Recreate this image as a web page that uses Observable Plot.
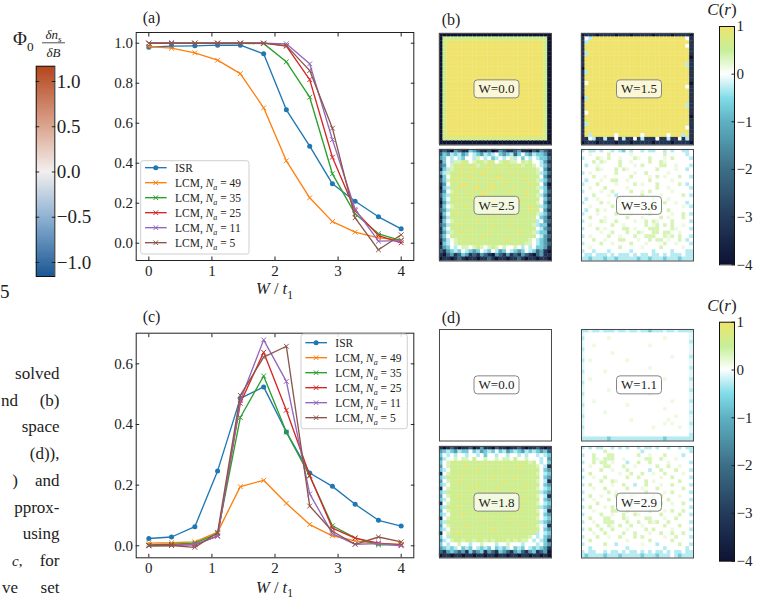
<!DOCTYPE html>
<html><head><meta charset="utf-8">
<script src="https://cdn.jsdelivr.net/npm/d3@7"></script>
<script src="https://cdn.jsdelivr.net/npm/@observablehq/plot@0.6"></script>
<style>
body{margin:0;background:#fff;}
#fig{position:relative;width:784px;height:599px;overflow:hidden;background:#fff;}
</style></head><body><div id="fig"></div>
<script>
// ---------------- data ----------------
const Wgrid = [0, 0.36, 0.73, 1.09, 1.45, 1.82, 2.18, 2.55, 2.91, 3.27, 3.64, 4.0];
const seriesNames = ["ISR", "LCM, Na = 49", "LCM, Na = 35", "LCM, Na = 25", "LCM, Na = 11", "LCM, Na = 5"];
const legendNa = [null, 49, 35, 25, 11, 5];
const seriesColors = ["#1f77b4", "#ff7f0e", "#2ca02c", "#d62728", "#9467bd", "#8c564b"];

// panel (a)
const a_ISR = [0.98, 0.985, 0.987, 0.99, 0.99, 0.947, 0.667, 0.485, 0.297, 0.21, 0.132, 0.072];
const a_N49 = [0.983, 0.975, 0.952, 0.915, 0.848, 0.677, 0.412, 0.227, 0.108, 0.055, 0.027, 0.017];
const a_N35 = [1.0, 1.0, 1.0, 1.0, 1.0, 0.998, 0.907, 0.73, 0.347, 0.147, 0.047, 0.013];
const a_N25 = [1.0, 1.0, 1.0, 1.0, 1.0, 1.0, 0.985, 0.818, 0.43, 0.163, 0.038, 0.002];
const a_N11 = [1.0, 1.0, 1.0, 1.0, 1.0, 1.0, 0.997, 0.897, 0.518, 0.17, 0.01, 0.013];
const a_N5  = [1.0, 1.0, 1.0, 1.0, 1.0, 1.0, 0.988, 0.863, 0.575, 0.127, -0.033, 0.042];
// panel (c)
const c_ISR = [0.024, 0.029, 0.063, 0.247, 0.486, 0.524, 0.375, 0.24, 0.196, 0.137, 0.084, 0.065];
const c_N49 = [0.009, 0.01, 0.013, 0.045, 0.195, 0.216, 0.14, 0.07, 0.033, 0.016, 0.007, 0.005];
const c_N35 = [0.003, 0.005, 0.009, 0.04, 0.423, 0.56, 0.375, 0.23, 0.066, 0.026, 0.003, 0.003];
const c_N25 = [0.001, 0.003, 0.003, 0.033, 0.47, 0.638, 0.447, 0.232, 0.058, 0.025, 0.009, 0.003];
const c_N11 = [0.0, 0.001, 0.005, 0.031, 0.479, 0.679, 0.542, 0.171, 0.04, 0.005, 0.007, 0.0];
const c_N5  = [0.0, 0.001, -0.005, 0.043, 0.496, 0.622, 0.658, 0.131, 0.048, 0.005, 0.029, 0.013];

const xTicks = [0, 1, 2, 3, 4];
const aYTicks = [0, 0.2, 0.4, 0.6, 0.8, 1.0];
const cYTicks = [0, 0.2, 0.4, 0.6];

// heat map level codes -> C(r) values
const levelCodes  = ["K", "N", "S", "T", "C", "c", "d", ".", "h", "g", "G", "y", "Y"];
const levelValues = [-4, -3.2, -2.2, -1.3, -0.7, -0.3, -0.12, 0, 0.15, 0.35, 0.6, 0.85, 1];
const bLabels = ["W=0.0", "W=1.5", "W=2.5", "W=3.6"];
const dLabels = ["W=0.0", "W=1.1", "W=1.8", "W=2.9"];

const b_W00 = [
"KKKKK KKKKK KKKKK KKKKK KKKKK KKKKK",
"KGGGG GGGGG GGGGG GGGGG GGGGG GGGGK",
"KGYYY YYYYY YYYYY YYYYY YYYYY YYYGK",
"KGYYY YYYYY YYYYY YYYYY YYYYY YYYGK",
"KGYYY YYYYY YYYYY YYYYY YYYYY YYYGK",
"KGYYY YYYYY YYYYY YYYYY YYYYY YYYGK",
"KGYYY YYYYY YYYYY YYYYY YYYYY YYYGK",
"KGYYY YYYYY YYYYY YYYYY YYYYY YYYGK",
"KGYYY YYYYY YYYYY YYYYY YYYYY YYYGK",
"KGYYY YYYYY YYYYY YYYYY YYYYY YYYGK",
"KGYYY YYYYY YYYYY YYYYY YYYYY YYYGK",
"KGYYY YYYYY YYYYY YYYYY YYYYY YYYGK",
"KGYYY YYYYY YYYYY YYYYY YYYYY YYYGK",
"KGYYY YYYYY YYYYY YYYYY YYYYY YYYGK",
"KGYYY YYYYY YYYYY YYYYY YYYYY YYYGK",
"KGYYY YYYYY YYYYY YYYYY YYYYY YYYGK",
"KGYYY YYYYY YYYYY YYYYY YYYYY YYYGK",
"KGYYY YYYYY YYYYY YYYYY YYYYY YYYGK",
"KGYYY YYYYY YYYYY YYYYY YYYYY YYYGK",
"KGYYY YYYYY YYYYY YYYYY YYYYY YYYGK",
"KGYYY YYYYY YYYYY YYYYY YYYYY YYYGK",
"KGYYY YYYYY YYYYY YYYYY YYYYY YYYGK",
"KGYYY YYYYY YYYYY YYYYY YYYYY YYYGK",
"KGYYY YYYYY YYYYY YYYYY YYYYY YYYGK",
"KGYYY YYYYY YYYYY YYYYY YYYYY YYYGK",
"KGYYY YYYYY YYYYY YYYYY YYYYY YYYGK",
"KGYYY YYYYY YYYYY YYYYY YYYYY YYYGK",
"KGYYY YYYYY YYYYY YYYYY YYYYY YYYGK",
"KGGGG GGGGG GGGGG GGGGG GGGGG GGGGK",
"KKKKK KKKKK KKKKK KKKKK KKKKK KKKKK"];

const b_W15 = [
"KNNNK NNNNK NNNKN NNNNK NNNNK NNNNK",
"N.cYY YYYYY YYYYY YYYYY YYYYY YYY.N",
"NcYYY YYYYY YYYYY YYYYY YYYYY YYYYN",
"NYYYY YYYYY YYYYY YYYYY YYYYY YYY.N",
"NYYYY YYYYY YYYYY YYYYY YYYYY YYYYN",
"NcYYY YYYYY YYYYY YYYYY YYYYY YYYYN",
"NYYYY YYYYY YYYYY YYYYY YYYYY YYYYK",
"NYYYY YYYYY YYYYY YYYYY YYYYY YYYYN",
"NYYYY YYYYY YYYYY YYYYY YYYYY YYYcN",
"KYYYY YYYYY YYYYY YYYYY YYYYY YYYYN",
"NcYYY YYYYY YYYYY YYYYY YYYYY YYYYN",
"NYYYY YYYYY YYYYY YYYYY YYYYY YYYYN",
"NYYYY YYYYY YYYYY YYYYY YYYYY YYYYN",
"N.YYY YYYYY YYYYY YYYYY YYYYY YYYYK",
"NYYYY YYYYY YYYYY YYYYY YYYYY YYY.N",
"NYYYY YYYYY YYYYY YYYYY YYYYY YYYYN",
"NYYYY YYYYY YYYYY YYYYY YYYYY YYYYN",
"KcYYY YYYYY YYYYY YYYYY YYYYY YYYYN",
"NYYYY YYYYY YYYYY YYYYY YYYYY YYYYN",
"NYYYY YYYYY YYYYY YYYYY YYYYY YYYcN",
"NYYYY YYYYY YYYYY YYYYY YYYYY YYYYN",
"N.YYY YYYYY YYYYY YYYYY YYYYY YYYYN",
"NYYYY YYYYY YYYYY YYYYY YYYYY YYYYK",
"NYYYY YYYYY YYYYY YYYYY YYYYY YYYYN",
"NcYYY YYYYY YYYYY YYYYY YYYYY YYYYN",
"NYYYY YYYYY YYYYY YYYYY YYYYY YYY.N",
"NYYYY YYYYY YYYYY YYYYY YYYYY YYYYN",
"NYcYY YYYY. YYYYY Y.YYY YYY.Y YYcYN",
"NN.cN NcNN. NcNN. NcNNN .NNcN N.NcN",
"KNNNK NNNNK NNNKN NNNNK NNNNK NNNNK"];

const b_W25 = [
"NSNKT SNNCT SNNSK NTSNN STNNK SNTSN",
"SCTcC cTC.c CTcCc .CTCc SC.CT cCCTN",
"TC.c. cC..c g.c.C c.c.g c.C.c .cCCS",
"NC.cg gGG.g GGgGG .gGGg g.GgG ..cTN",
"ST.gG GyGGG gGGyG GGGyG GGgGG g.cCS",
"NCcgG yGGyY GGGyG GyGGG GyGGG Gg.TN",
"TcgGG GyGGG GYyGG GGGGy GGGGG GgcCS",
"NC.GG yGGYG GGGGG yYGGG GGyGG GG.TN",
"SCgGy GGGGG yGGyG GGGyG GGGyG GgcCS",
"NT.GG GYyGG GGGGy GGyGG GGGGy GG.TK",
"KCcGG yGGGy YGGyY GGGGG yGGGG GgcCN",
"NT.gG GGyGG GGYGG GGGyG GGGyG GG.CS",
"SCcGy GGGyG GYyGG GGGGG GGGyG GgcTN",
"NC.GG GGGGy GGGGY YGGGG GyGGG GG.CS",
"KTcGG yGGGG GyGGY GGGyG GyGGG Gg.TN",
"NC.gG GGyGG GGGyG GGGGG GGGGy GGcCS",
"STcGG GGGGy GGyYG GGGGy GGGGy GG.TN",
"NC.Gy GGGGG GGGGG YGGGG GGGGG GgcCS",
"KTcGG GGyGG GGGyG GGGGy GGGGG G.CTN",
"NC.gG GGGGG yGGGG GGGGG GGGGG Gc.TS",
"STcGG yGGGG GGGGy GGGGy GGGGG gcCCN",
"NC.GG GGGyG GGGGG GGGGG GGGGG G.cTS",
"NTcgG GyGGG GGGyG GGGGG GyGGG gcCCN",
"SC.GG GGGGG GyGGG GGGGG GGGGG G.cTS",
"NTc.g GGGyG GGGGG GGGyG GGGGg .cCTN",
"KCc.g GGGGG GGGGG GGGGG GGGgg .cCTS",
"NTC.c .gg.g Gg.gG g.g.. g.c.c .CCTN",
"SNTCc C.cCT C.cC. cTC.c CTC.c CSTNK",
"NKSTN SCTNS NTSNK TSNTN SNTSN KSTNN",
"KNNKN SNKNN KNNSN KNNKN NSNKN NKNNK"];

const b_W36 = [
"c.cc. c..c. cC.c. .c.cc ..c.c ..cc.",
"..h.. ..g.. ...h. ..... ..g.. ...c.",
"c...g h.g.. h...g h..g. ..h.g ....c",
"...g. gh... g..h. ...g. .gh.. .....",
".c..h ..... g...h .g... .gg.. h...c",
"....g h...g .gh.. ..... g.... h..c.",
"c.h.. ....g ....h ..g.. ...h. .....",
"...g. .h... ...g. ...h. g.h.. .g..c",
".c... h..gg ..h.. ...g. ....h .....",
"c...g ....h ....g .h... g.... .g.c.",
"..h.. .g... ..h.. ..... g..h. ....c",
"c.... h..g. ...g. .h.g. ....h .....",
"...g. ..h.c ..... .g... .h... ..g.c",
".c..h ..... g..h. ....g ...h. .....",
"c.... g.h.. ..g.. .h... ..g.. h..c.",
"..h.. ...g. ..... .h..g ..... ..h.c",
".c..g .h... g..h. ...g. .h.g. .....",
"c...h ....g ...h. ...g. ....h ..g.c",
"..g.. .h... ..g.. .h... .g.h. ..g..",
"c.... gh..g ....h ..g.g h...g ....c",
"..h.. ...g. .h... ..g.h g.g.g ..h..",
"c...g .h... .gg.h ...gg g...g h...c",
"..... h..g. ..g.. gh..g g.gg. .h...",
"c.h.. ..g.. h...g ..ggg ..ghg .g..c",
"...g. .h... gg... h..g. gg.h. .g.c.",
"c.... g..h. ...g. ..h.. ..g.. h...c",
"..h.. ..... g.... .h... .g... ..h..",
"c..c. ..c.. ...c. ....c ....c ...cc",
".cc.c cc.c. ccc.c .cc.c c.c.c cc.cc",
"ccCcc cCccC ccccc CccCc ccCcc cCccc"];

const d_W00 = [
"..... ..... ..... ..... ..... .....",
"..... ..... ..... ..... ..... .....",
"..... ..... ..... ..... ..... .....",
"..... ..... ..... ..... ..... .....",
"..... ..... ..... ..... ..... .....",
"..... ..... ..... ..... ..... .....",
"..... ..... ..... ..... ..... .....",
"..... ..... ..... ..... ..... .....",
"..... ..... ..... ..... ..... .....",
"..... ..... ..... ..... ..... .....",
"..... ..... ..... ..... ..... .....",
"..... ..... ..... ..... ..... .....",
"..... ..... ..... ..... ..... .....",
"..... ..... ..... ..... ..... .....",
"..... ..... ..... ..... ..... .....",
"..... ..... ..... ..... ..... .....",
"..... ..... ..... ..... ..... .....",
"..... ..... ..... ..... ..... .....",
"..... ..... ..... ..... ..... .....",
"..... ..... ..... ..... ..... .....",
"..... ..... ..... ..... ..... .....",
"..... ..... ..... ..... ..... .....",
"..... ..... ..... ..... ..... .....",
"..... ..... ..... ..... ..... .....",
"..... ..... ..... ..... ..... .....",
"..... ..... ..... ..... ..... .....",
"..... ..... ..... ..... ..... .....",
"..... ..... ..... ..... ..... .....",
"..... ..... ..... ..... ..... .....",
"..... ..... ..... ..... ..... ....."];

const d_W11 = [
"ccdcc dcccd ccdcc dccCc ccdcc dcccc",
"d.... ..... ..... ..... ..... ....d",
"c.... ..h.. ..... ..... ..h.. ....d",
"d.... ..... ..... ..... ..... ....c",
"d..h. ..... ..... ...h. ..... ....d",
"c.... ..... ..... ..... ..... ....d",
"d.... ...h. ..... ..... ..... ....d",
"d.... ..... ..... ..... ....h ....c",
"c.h.. ..... ..h.. ..... ..... ....d",
"d.... ..... ..... ..... ..... ....d",
"d.... ..... ..... ...h. ..... ....c",
"c.... .h... ..... ..... ..... ....d",
"d.... ..... ..... ..... ..... ....d",
"d.h.. ..... ..... ..... ..h.. ....c",
"c.... ..... ..h.. ..... ..... ....d",
"d.... ..... ..... ..... ..... ....d",
"d.... ..h.. ..... ..... ..... ....c",
"c.... ..... ..... ...h. ..... ....d",
"d.... ..... ..... ..... ..... ....d",
"d..h. ..... ..... ..... ....h ....c",
"c.... ..... ..h.. ..... ..... ....d",
"d.... ..... ..... ..... ..h.. ....d",
"d.... .h... ..... ..... ..... ....c",
"c.... ..... ..... ..... ..... h...d",
"d.... ..... ...h. ..... ...h. ....d",
"d.... ..... ..... ..... ..h.h ....c",
"c.... ..... ..... ....h ..... .h..d",
"d.... ..... ..... ..... ..... ....d",
"d.... ..... ..... ..... ..... ....c",
"ccccc ccCcc ccccc ccccc ccCcc ccccc"];

const d_W18 = [
"NKNSN KNNSK NTNNK SNNKN NSNKN NSNKN",
"TCcCT cCC.C cTCcC .CcTC cCTcC cCTCS",
"C.c.c ..c.. c.C.. c..c. .c.c. .c.cC",
"Tc..g .gg.G ..g.. g.gg. G..g. ..c.T",
"C.gGG GGGGG GGGGG GGGGG GGGGg G.c.C",
"T.gGG GGyGG GGGGG GGGGG GyGGG Gg.cN",
"Cc.GG GGGGG yGGGG GGyGG GGGGG GG.CT",
"N.gGG GyGGG GGGGG GGGGG GGGGG Gg.cC",
"CcGGG GGGGG GGGGy GGGGG yGGGG GG.CT",
"T.gGG yGGGG GGGGG GGyGG GGGGG Gg.cN",
"Cc.GG GGGGG yGGGG GGGGG GGGyG GG.CT",
"N.gGG GGGyG GGGGG yGGGG GGGGG Gg.cC",
"CcGGG GGGGG GGyGG GGGGG yGGGG GGcCT",
"T.gGG yGGGG GGGGG GGGyG GGGGG Gg.cN",
"Cc.GG GGGGy GGGGG GGGGG GGyGG GG.CT",
"N.gGG GGGGG GGGyG GGGGG GGGGG Gg.cC",
"CcGGG yGGGG GGGGG GGyGG GGGGG GGcCT",
"T.gGG GGGGG yGGGG GGGGG GyGGG Gg.cN",
"Cc.GG GyGGG GGGGG GGGGG GGGGG GG.CT",
"N.gGG GGGGG GGyGG GGGGy GGGGG Gg.cC",
"CcGGG GGGGG GGGGG GGGGG GGGGG GGcCT",
"T.gGG GGyGG GGGGG GGGGG GGyGG Gg.cN",
"Cc.GG GGGGG GGGGy GGGGG GGGGG GG.CT",
"N.gGG yGGGG GGGGG GGGGG GGGGG Gc.cC",
"C.cGG GGGGG GGGGG GGGGG GGGGg .c.CT",
"Tc.gG GgGGg GGgGg GGGgG gGgg. c.cCN",
"C.c.. g..c. .g... c..g. ..c.. .c.CT",
"TCcCc .CcC. cCcC. CcCc. CcC.c CcCTN",
"SNTCT STNCS TCNTS NCTSN TCSNT CNSTK",
"KNNKN NKNNK NNKNN KNNKN NKNNK NNKNK"];

const d_W29 = [
"c.c.c c..c. c.c.. c.cc. c..c. .c.cc",
"..... .g... ..... .c... ..... ....c",
"c..g. ..gg. ..... g..h. ..g.. ..c..",
"...gh .ggg. .h... ..gg. .g... h....",
"c..g. gg.h. ..c.. g..g. ...h. ....c",
"..h.. .gg.. .g..h ..... g..g. .h...",
"c.... g..h. ..g.. ...c. .g... g...c",
"..g.. ..... h..g. .g..h ..g.. ..h..",
"c..h. .g... ..g.. g.... .h..g ....c",
"..... g..gh ..... ..g.h ..... .g...",
"c.g.. ...h. .g..c ..g.. .h..g ....c",
"...h. .g... ..g.. .h... g.... ..g..",
"c.... ..g.h ..... ..g.. ..h.g ....c",
"..g.. h...g .g.gh ....g .g... .h...",
"c..h. ..g.. ..h.. ..g.. ...g. ....c",
"....g ..... h..c. g.... .g..h ..g..",
"c.g.. .h.g. ...g. ..h.. g.... ....c",
"...h. ...gg ..g.. ...g. ..h.g ..g..",
"c.... g..h. .g..g h.... .g... .g..c",
"..g.. .gg.. .gh.. ..gg. ..h.. g....",
"c..h. .ggg. ..g.. g..gh g..g. ....c",
"....g ..gh. g..g. .h... ..g.. .g...",
"c.g.. g..g. ..h.. ..g.g ....h ....c",
"...h. .g... .g..g ...h. .g..g ..g..",
"c...g ..h.. g...g .g... ..h.. g...c",
"..g.. ..... ..h.. ...g. ....g .....",
"c.... .g..c ..... .h... c.... .g..c",
"..c.. ..... ..c.. ..... ..c.. ...c.",
"c.cc. .c.cc .c.cc .c.c. cc.c. cc.cc",
"cCccc cCccc Ccccc cCccc Cccc. cCccc"];

// colour bar tick labels
const crTicks = [-4, -3, -2, -1, 0, 1];
const dnTicks = [-1.0, -0.5, 0.0, 0.5, 1.0];

// paragraph fragments at the left edge (cropped page text)
const paraRight = ["solved", "(b)", "space", "(d)),", "and", "pprox-", "using", "for", "set"];
const paraLeft  = [null, "nd", null, null, ")", null, null, "c,", "ve"];

// ---------------- drawing ----------------
const serif = "'Liberation Serif', 'DejaVu Serif', serif";
const fig = document.getElementById("fig");
function place(el, left, top) {
  el.style.position = "absolute";
  el.style.left = left + "px";
  el.style.top = top + "px";
  el.style.overflow = "visible";
  el.style.background = "transparent";
  el.style.maxWidth = "none";
  fig.appendChild(el);
}
const fmtMinus = d => (d < 0 ? "\u2212" : "") + Math.abs(d);
const fmt1 = d => (d < 0 ? "\u2212" : "") + Math.abs(d).toFixed(1);
const plotStyle = {fontFamily: serif, background: "transparent", overflow: "visible", color: "#222"};

function linePlot(seriesValues, yDomain, yTicks, top, height, mTop, mBottom) {
  const marks = [];
  seriesValues.forEach((vals, k) => {
    const rows = vals.map((v, i) => ({s: seriesNames[k], x: Wgrid[i], y: v}));
    marks.push(Plot.line(rows, {x: "x", y: "y", stroke: "s", strokeWidth: 1.35}));
    if (k === 0) marks.push(Plot.dot(rows, {x: "x", y: "y", fill: "s", r: 2.5}));
    else marks.push(Plot.dot(rows, {x: "x", y: "y", stroke: "s", symbol: "times", r: 2.3, strokeWidth: 1}));
  });
  const p = Plot.plot({
    width: 430, height, marginLeft: 135.7, marginRight: 16.7, marginTop: mTop, marginBottom: mBottom,
    style: plotStyle,
    x: {domain: [-0.2, 4.2]},
    y: {domain: yDomain},
    color: {domain: seriesNames, range: seriesColors},
    marks: [
      ...marks,
      Plot.axisX({anchor: "bottom", ticks: xTicks, tickSize: -3.5, tickPadding: 8, tickFormat: d => String(d), fontSize: 15, label: null}),
      Plot.axisX({anchor: "top", ticks: xTicks, tickSize: -3.5, tickFormat: () => "", label: null}),
      Plot.axisY({anchor: "left", ticks: yTicks, tickSize: -3.5, tickPadding: 6.8, tickFormat: fmt1, fontSize: 15, label: null}),
      Plot.axisY({anchor: "right", ticks: yTicks, tickSize: -3.5, tickFormat: () => "", label: null}),
      Plot.frame({stroke: "#222", strokeWidth: 1})
    ]
  });
  place(p, 0, top);
}
linePlot([a_ISR, a_N49, a_N35, a_N25, a_N11, a_N5], [-0.0865, 1.0535], aYTicks, 0, 300, 32, 40);
linePlot([c_ISR, c_N49, c_N35, c_N25, c_N11, c_N5], [-0.0396, 0.701], cYTicks, 300, 299, 32.7, 41.7);

// heat maps
const heatColor = {type: "linear", domain: [-4, -3, -2, -1, -0.5, 0, 0.5, 1],
  range: ["#0e1333", "#243b5b", "#3c6f88", "#5fb2c3", "#82dde9", "#ffffff", "#c6ef98", "#efe36b"], clamp: true};
function heat(rowsArr, left, top, w, h) {
  const cells = [];
  rowsArr.forEach((row, j) => row.replace(/ /g, "").split("").forEach((ch, i) => {
    cells.push({i, j, v: levelValues[levelCodes.indexOf(ch)]});
  }));
  const n = 30;
  const p = Plot.plot({
    width: w, height: h, margin: 0, style: plotStyle,
    x: {type: "band", domain: d3.range(n), padding: 0, round: false, axis: null},
    y: {type: "band", domain: d3.range(n), padding: 0, round: false, axis: null},
    color: heatColor,
    marks: [
      Plot.cell(cells, {x: "i", y: "j", fill: "v", inset: 0, stroke: "v", strokeWidth: 0.3}),
      Plot.frame({stroke: "#4a4a4a", strokeWidth: 1})
    ]
  });
  place(p, left, top);
}
const colX = [438.5, 581];
const pw = 112;
const bRowY = [32.5, 149];
const dRowY = [328.5, 445.8];
const ph = 111.5;
heat(b_W00, colX[0], bRowY[0], pw, ph);
heat(b_W15, colX[1], bRowY[0], pw, ph);
heat(b_W25, colX[0], bRowY[1], pw, ph);
heat(b_W36, colX[1], bRowY[1], pw, ph);
heat(d_W00, colX[0], dRowY[0], pw, ph);
heat(d_W11, colX[1], dRowY[0], pw, ph);
heat(d_W18, colX[0], dRowY[1], pw, ph);
heat(d_W29, colX[1], dRowY[1], pw, ph);

// colour bars
function colorbar(left, top, width, height, mL, mR, mT, mB, domain, color, ticks, fmt, fontSize, both) {
  const step = (domain[1] - domain[0]) / 240;
  const steps = d3.range(domain[0], domain[1] - step / 2, step);
  const marks = [
    Plot.rect(steps, {x1: 0, x2: 1, y1: d => d, y2: d => d + step * 1.02, fill: d => d + step / 2, shapeRendering: "crispEdges"}),
    Plot.axisY({anchor: "right", ticks, tickSize: -3.5, tickPadding: 5.5, tickFormat: fmt, fontSize, label: null})
  ];
  if (both) marks.push(Plot.axisY({anchor: "left", ticks, tickSize: -3.5, tickFormat: () => "", label: null}));
  marks.push(Plot.frame({stroke: "#111", strokeWidth: 1}));
  const p = Plot.plot({
    width, height, marginLeft: mL, marginRight: mR, marginTop: mT, marginBottom: mB, style: plotStyle,
    x: {domain: [0, 1], axis: null}, y: {domain}, color, marks
  });
  place(p, left, top);
}
colorbar(700, 0, 70, 270, 19, 36, 26, 5.7, [-4, 1], heatColor, crTicks, fmtMinus, 15, false);
colorbar(700, 295, 70, 270, 19, 36, 26.7, 4.3, [-4, 1], heatColor, crTicks, fmtMinus, 15, false);
const dnColor = {type: "linear", domain: [-1.16, -0.5, 0, 0.5, 1.16],
  range: ["#1a5794", "#8fb2d3", "#f2efee", "#dba58f", "#b4461e"], clamp: true};
colorbar(0, 40, 100, 250, 35.7, 45.7, 25.7, 14, [-1.155, 1.169], dnColor, dnTicks, fmt1, 19, true);

// ---------------- overlay text ----------------
const ov = d3.create("svg").attr("width", 784).attr("height", 599)
  .style("position", "absolute").style("left", "0px").style("top", "0px")
  .attr("font-family", serif).attr("fill", "#222");
fig.appendChild(ov.node());

function rich(x, y, parts, size, anchor = "start") {
  const t = ov.append("text").attr("x", x).attr("y", y).attr("font-size", size).attr("text-anchor", anchor);
  let shifted = 0;
  parts.forEach(p => {
    const o = typeof p === "string" ? {t: p} : p;
    const s = t.append("tspan").text(o.t);
    if (o.i) s.attr("font-style", "italic");
    const want = o.sub ? size * 0.3 : 0;
    if (want !== shifted) { s.attr("dy", want - shifted); shifted = want; }
    if (o.sub) s.attr("font-size", size * 0.7);
  });
  return t;
}

// panel letters
rich(142.7, 22.5, ["(a)"], 16);
rich(142.7, 321.5, ["(c)"], 16);
rich(441.7, 24.5, ["(b)"], 16);
rich(441.7, 322.5, ["(d)"], 16);

// x labels
rich(274.5, 294, [{t: "W", i: true}, " / ", {t: "t", i: true}, {t: "1", sub: true}], 16.5, "middle");
rich(274.5, 592.5, [{t: "W", i: true}, " / ", {t: "t", i: true}, {t: "1", sub: true}], 16.5, "middle");

// legends
function legend(x0, y0, w, h, rowY0) {
  ov.append("rect").attr("x", x0).attr("y", y0).attr("width", w).attr("height", h).attr("rx", 2.5)
    .attr("fill", "white").attr("fill-opacity", 0.85).attr("stroke", "#cfcfcf").attr("stroke-width", 1);
  seriesNames.forEach((name, k) => {
    const y = rowY0 + 15 * k;
    const col = seriesColors[k];
    ov.append("line").attr("x1", x0 + 4.3).attr("x2", x0 + 26).attr("y1", y).attr("y2", y)
      .attr("stroke", col).attr("stroke-width", 1.35);
    const cx = x0 + 15.1;
    if (k === 0) ov.append("circle").attr("cx", cx).attr("cy", y).attr("r", 2.5).attr("fill", col);
    else ov.append("path").attr("d", `M${cx - 2.3},${y - 2.3}L${cx + 2.3},${y + 2.3}M${cx - 2.3},${y + 2.3}L${cx + 2.3},${y - 2.3}`)
      .attr("stroke", col).attr("stroke-width", 1);
    const parts = k === 0 ? ["ISR"] : ["LCM, ", {t: "N", i: true}, {t: "a", i: true, sub: true}, " = " + legendNa[k]];
    rich(x0 + 34.3, y + 4, parts, 11.5);
  });
}
legend(140.7, 160.7, 108.3, 93.3, 167.7);
legend(301, 334, 106.3, 94.7, 342.7);

// W labels on heat maps
function wbox(cx, cy, label) {
  ov.append("rect").attr("x", cx - 22.5).attr("y", cy - 9).attr("width", 45).attr("height", 18).attr("rx", 3.5)
    .attr("fill", "white").attr("fill-opacity", 0.72).attr("stroke", "#858585").attr("stroke-width", 1);
  rich(cx, cy + 4.6, [label], 13, "middle");
}
[bRowY, dRowY].forEach((rowsY, g) => {
  const labels = g === 0 ? bLabels : dLabels;
  [0, 1].forEach(r => [0, 1].forEach(c => {
    wbox(colX[c] + pw / 2 + 2, rowsY[r] + ph / 2 + 0.6, labels[r * 2 + c]);
  }));
});

// colour bar titles
rich(722, 14.5, [{t: "C", i: true}, "(", {t: "r", i: true}, ")"], 17, "middle");
rich(722, 311, [{t: "C", i: true}, "(", {t: "r", i: true}, ")"], 17, "middle");

// left colour bar title  Phi_0 dn_s/dB
rich(13, 45, ["\u03A6", {t: "0", sub: true}], 19);
rich(53.5, 38.5, [{t: "\u03B4n", i: true}, {t: "s", i: true, sub: true}], 13, "middle");
ov.append("line").attr("x1", 42).attr("x2", 65).attr("y1", 42.8).attr("y2", 42.8).attr("stroke", "#222").attr("stroke-width", 0.8);
rich(53.5, 56.5, [{t: "\u03B4B", i: true}], 13, "middle");

// cropped fragment "5"
rich(0, 298, ["5"], 19);

// paragraph fragments
paraRight.forEach((s, i) => {
  const y = 379 + 26.7 * i;
  rich(59.5, y, [s], 17, "end");
  if (paraLeft[i]) {
    if (paraLeft[i] === "c,") rich(12, y, [{t: "c", i: true}, ","], 15, "start");
    else rich(18, y, [paraLeft[i]], 17, "end");
  }
});
</script></body></html>
